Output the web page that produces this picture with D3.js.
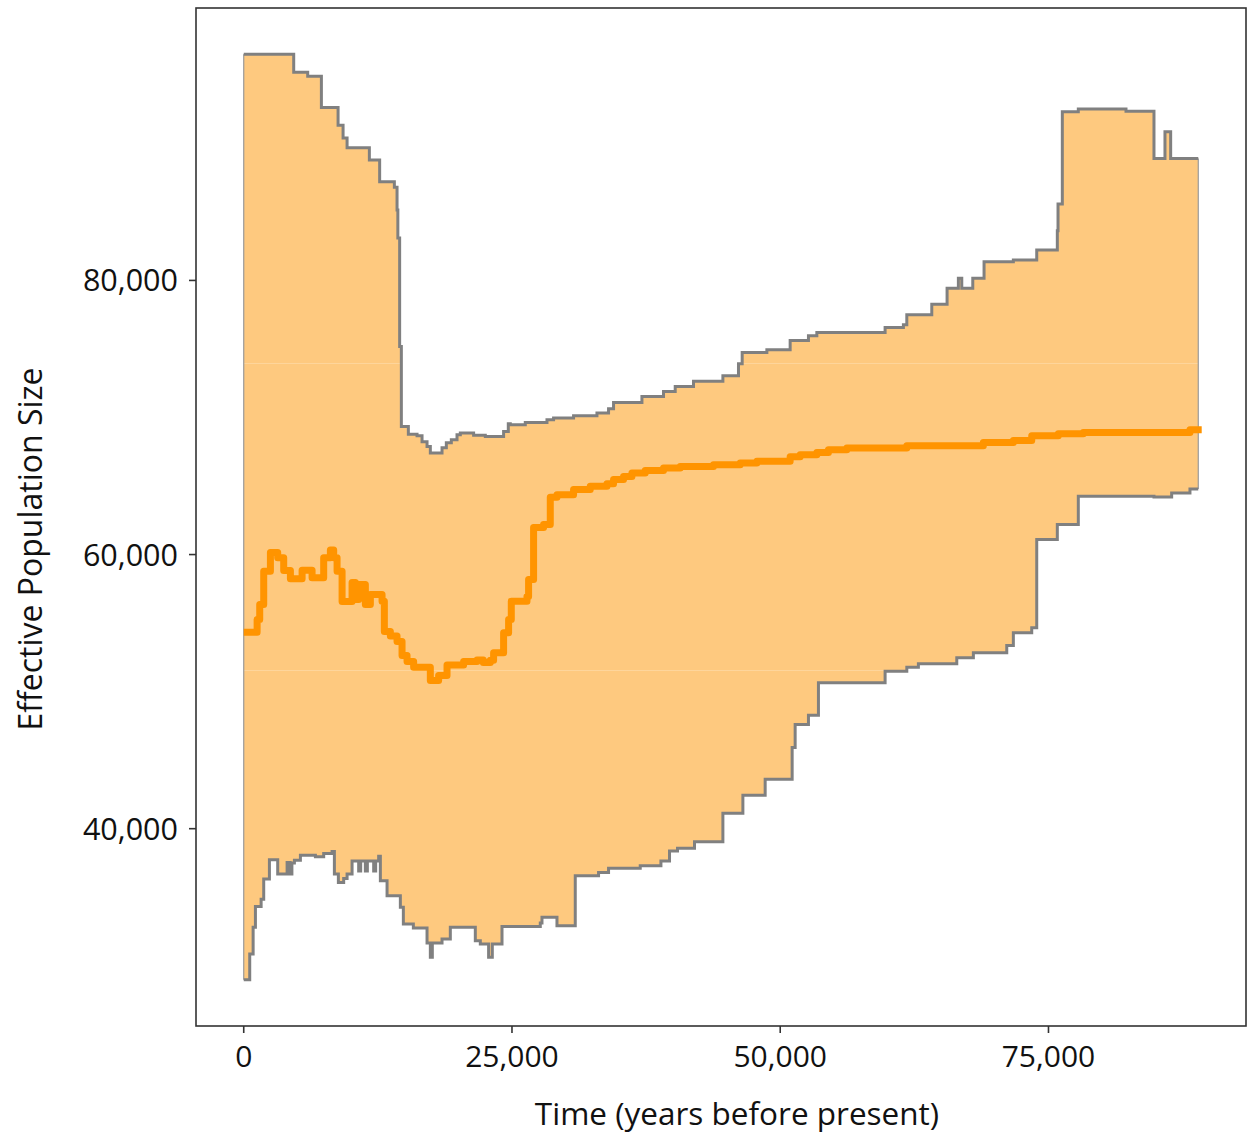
<!DOCTYPE html>
<html>
<head>
<meta charset="utf-8">
<script src="https://cdn.jsdelivr.net/npm/d3@7"></script>
<style>
  html, body { margin: 0; padding: 0; background: #fff; }
  svg { display: block; }
  text { font-family: "Open Sans", "Noto Sans", sans-serif; fill: #111; }
</style>
</head>
<body>
<svg id="chart" width="1248" height="1135"></svg>
<script>
// Upper bound of the 95% interval (step function: value holds from each year onward)
const upperYears = [0, 4658, 5962, 7238, 8793, 9259, 9632, 11709, 12668, 14038,
  14289, 14364, 14531, 14690, 15342, 16152, 16618, 17084, 17391, 18481,
  18882, 19347, 19878, 20186, 21425, 22514, 24219, 24657, 24843, 26240,
  28262, 28877, 30740, 32919, 34000, 34466, 37111, 39123, 40213, 41918,
  44656, 46109, 46454, 48755, 50925, 52630, 53412, 59774, 61479, 61796,
  64124, 65550, 66602, 66919, 67944, 68996, 71726, 73905, 75824, 75889,
  76290, 77780, 82224, 84832, 85856, 86387, 88960];
const upperValues = [96500, 95190, 94900, 92620, 91330, 90400, 89680, 88780, 87200, 86790,
  85140, 83100, 75180, 69350, 68780, 68670, 68230, 67890, 67410, 67800,
  68160, 68380, 68740, 68870, 68710, 68620, 68980, 69550, 69470, 69640,
  69840, 69960, 70130, 70320, 70640, 71100, 71530, 71900, 72260, 72640,
  73040, 73920, 74740, 74940, 75610, 75960, 76200, 76560, 76760, 77490,
  78270, 79430, 80160, 79430, 80160, 81370, 81490, 82220, 83630, 85570,
  92300, 92500, 92350, 88900, 90840, 88900, 88900];

// Lower bound of the 95% interval
const lowerYears = [0, 559, 876, 1090, 1621, 1863, 2394, 3167, 4043, 4322,
  4490, 4723, 5282, 6679, 7452, 8235, 8449, 8821, 9315, 9632,
  10097, 10712, 10899, 11336, 11523, 12110, 12296, 12575, 12734, 13358,
  14597, 14876, 15808, 17084, 17391, 17577, 18481, 19254, 21583, 22049,
  22822, 23167, 24070, 27638, 27796, 29193, 30898, 33068, 34000, 36953,
  38881, 39682, 40427, 42011, 44656, 46519, 48596, 51111, 51391, 52630,
  53561, 59774, 61796, 62876, 66453, 68000, 71111, 71726, 73439, 73905,
  75824, 77780, 84832, 86480, 88185, 88960];
const lowerValues = [28980, 30860, 32800, 34330, 34860, 36320, 37730, 36690, 37540, 36690,
  37490, 37700, 38070, 37950, 38190, 38340, 36690, 36080, 36370, 36690,
  37650, 36920, 37650, 36920, 37650, 36920, 37650, 37980, 36200, 35100,
  34260, 33040, 32750, 31660, 30620, 31660, 31950, 32800, 31830, 31590,
  30620, 31590, 32870, 33120, 33530, 32920, 36560, 36810, 37120, 37290,
  37650, 38380, 38580, 39040, 41130, 42440, 43610, 45920, 47610, 48270,
  50650, 51480, 51770, 52040, 52470, 52840, 53370, 54300, 54660, 61090,
  62190, 64250, 64200, 64500, 64790, 64790];

// Median effective population size
const medianYears = [0, 1248, 1490, 1863, 2487, 3167, 3726, 4350, 5440, 6371,
  7452, 8076, 8384, 8700, 9166, 10097, 10405, 10712, 11336, 11802,
  12892, 13106, 13665, 14289, 14755, 15221, 15836, 17391, 18164, 18947,
  20493, 21741, 22328, 22980, 23288, 24219, 24685, 24936, 26399, 26548,
  27014, 27945, 28569, 29193, 30740, 32295, 33851, 34466, 35397, 36179,
  37418, 39123, 40678, 43781, 46268, 47823, 50925, 51857, 53412, 54493,
  56207, 61796, 68931, 71726, 73439, 75917, 78246, 88185, 89280];
const medianValues = [54340, 55260, 56360, 58780, 60150, 59760, 58830, 58230, 58860, 58300,
  59760, 60330, 59760, 58780, 56580, 57960, 56720, 57810, 56360, 57090,
  56600, 54390, 54060, 53660, 52640, 52200, 51770, 50820, 51180, 51950,
  52200, 52310, 52130, 52280, 52840, 54300, 55260, 56600, 56940, 58180,
  61970, 62190, 64190, 64370, 64740, 64980, 65170, 65470, 65700, 65950,
  66140, 66320, 66430, 66560, 66680, 66800, 67140, 67290, 67450, 67650,
  67770, 67940, 68180, 68330, 68670, 68820, 68910, 69110, 69110];

const xTicks = [0, 25000, 50000, 75000];
const yTicks = [40000, 60000, 80000];
const xTitle = "Time (years before present)";
const yTitle = "Effective Population Size";

const panel = { left: 196, top: 8, right: 1246, bottom: 1026 };

// Domains padded by 5% on each side of the data range
function padded(lo, hi) { const d = (hi - lo) * 0.05; return [lo - d, hi + d]; }
const xExt = [0, d3.max(upperYears)];
const yExt = [d3.min(lowerValues), d3.max(upperValues)];

const x = d3.scaleLinear().domain(padded(...xExt)).range([panel.left, panel.right]);
const y = d3.scaleLinear().domain(padded(...yExt)).range([panel.bottom, panel.top]);

const svg = d3.select("#chart");

const upper = upperYears.map((t, i) => ({ t, v: upperValues[i] }));
const lower = lowerYears.map((t, i) => ({ t, v: lowerValues[i] }));
const median = medianYears.map((t, i) => ({ t, v: medianValues[i] }));

// Evaluate a step-after series at year t
function stepAt(series, t) {
  let v = series[0].v;
  for (const p of series) { if (p.t <= t) v = p.v; else break; }
  return v;
}
const bandYears = Array.from(new Set(upperYears.concat(lowerYears))).sort((a, b) => a - b);
const band = bandYears.map(t => ({ t, lo: stepAt(lower, t), hi: stepAt(upper, t) }));

const clip = svg.append("clipPath").attr("id", "bandClip");

const area = d3.area()
  .curve(d3.curveStepAfter)
  .x(d => x(d.t))
  .y0(d => y(d.lo))
  .y1(d => y(d.hi));

clip.append("path").attr("d", area(band));

svg.append("path")
  .attr("d", area(band))
  .attr("fill", "#FEC97F");

// faint seams across the ribbon
[74010, 51570].forEach(v => {
  svg.append("line")
    .attr("clip-path", "url(#bandClip)")
    .attr("x1", panel.left).attr("x2", panel.right)
    .attr("y1", Math.round(y(v)) + 0.5).attr("y2", Math.round(y(v)) + 0.5)
    .attr("stroke", "#fff").attr("stroke-opacity", 0.22).attr("stroke-width", 1);
});

// thin edges at both ends of the ribbon
const first = band[0], last = band[band.length - 1];
[first, last].forEach(d => {
  svg.append("line")
    .attr("x1", x(d.t)).attr("x2", x(d.t))
    .attr("y1", y(d.lo)).attr("y2", y(d.hi))
    .attr("stroke", "#9a9a9a").attr("stroke-width", 1.2);
});

const stepLine = d3.line().curve(d3.curveStepAfter).x(d => x(d.t)).y(d => y(d.v));

[upper, lower].forEach(s => {
  svg.append("path")
    .attr("d", stepLine(s))
    .attr("fill", "none")
    .attr("stroke", "#808080")
    .attr("stroke-width", 3)
    .attr("stroke-linejoin", "miter");
});

svg.append("path")
  .attr("d", stepLine(median))
  .attr("fill", "none")
  .attr("stroke", "#FF9400")
  .attr("stroke-width", 7)
  .attr("stroke-linejoin", "round")
  .attr("stroke-linecap", "butt");

// panel border
svg.append("rect")
  .attr("x", panel.left).attr("y", panel.top)
  .attr("width", panel.right - panel.left).attr("height", panel.bottom - panel.top)
  .attr("fill", "none").attr("stroke", "#333").attr("stroke-width", 1.6);

const fmt = d3.format(",");

// x axis ticks and labels
const xg = svg.append("g");
xTicks.forEach(t => {
  xg.append("line")
    .attr("x1", x(t)).attr("x2", x(t))
    .attr("y1", panel.bottom).attr("y2", panel.bottom + 7)
    .attr("stroke", "#333").attr("stroke-width", 1.6);
  xg.append("text")
    .attr("x", x(t)).attr("y", 1067)
    .attr("text-anchor", "middle")
    .attr("font-size", 30)
    .text(fmt(t));
});

// y axis ticks and labels
const yg = svg.append("g");
yTicks.forEach(v => {
  yg.append("line")
    .attr("x1", panel.left - 7).attr("x2", panel.left)
    .attr("y1", y(v)).attr("y2", y(v))
    .attr("stroke", "#333").attr("stroke-width", 1.6);
  yg.append("text")
    .attr("x", 178).attr("y", y(v) + 11)
    .attr("text-anchor", "end")
    .attr("font-size", 30.5)
    .text(fmt(v));
});

svg.append("text")
  .attr("x", 737).attr("y", 1125)
  .attr("text-anchor", "middle")
  .attr("font-size", 31.5)
  .text(xTitle);

svg.append("text")
  .attr("transform", "translate(42,549) rotate(-90)")
  .attr("text-anchor", "middle")
  .attr("font-size", 32)
  .text(yTitle);
</script>
</body>
</html>
